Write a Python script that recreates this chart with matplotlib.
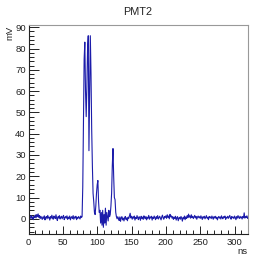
import numpy as np
import matplotlib
matplotlib.use("Agg")
import matplotlib.pyplot as plt
from matplotlib.ticker import MultipleLocator

plt.rcParams["font.family"] = ["Liberation Sans", "DejaVu Sans"]

T_START = 0
T_STEP = 1

baseline_pre = [
    0.3, 1.1, -0.2, 0.8, 1.5, 0.2, 0.9, -0.4, 1.2, 0.6,
    1.8, 0.4, 2.0, 1.0, 2.3, 0.7, 1.5, 0.1, 1.2, 0.5,
    -0.3, 0.9, 0.2, 1.4, -0.5, 0.6, 1.1, 0.0, 1.6, 0.4,
    0.8, -0.6, 1.0, 0.3, 1.7, 0.5, -0.2, 1.3, 0.6, 0.1,
    1.9, 0.2, -0.8, 1.0, 0.4, 1.5, -0.1, 0.7, 1.2, 0.0,
    0.9, 1.6, -0.4, 0.5, 1.1, 0.3, 1.4, -0.3, 0.8, 0.2,
    1.3, -0.5, 0.6, 1.0, 0.1, 1.5, -0.2, 0.9, 0.4, 1.2,
    -0.4, 0.7, 0.2, 1.1, 0.5, -0.1, 1.3, 0.6,
]

pulse = [
    1.0, 15.0, 45.0, 75.0, 83.0, 60.0, 48.0, 62.0, 80.0, 86.0,
    32.0, 60.0, 86.0, 68.0, 42.0, 25.0, 12.0, 8.0, 3.0, 2.0,
    6.0, 12.0, 16.0, 18.0, 8.0, 3.0, 4.0, -2.0, 3.0, -3.0,
    4.0, -4.0, 2.0, -2.0, 5.0, -3.0, 3.0, 1.0, -1.0, 4.0,
    1.0, 2.0, 6.0, 12.0, 25.0, 33.0, 20.0, 10.0, 9.0, 3.0,
    1.0, 0.0, 1.0,
]

baseline_post = [
    0.2, -0.8, 0.9, -1.2, 0.5, 1.0, -0.5, 0.3, -1.0, 0.6,
    1.1, -0.3, 0.4, -0.9, 0.8, 0.2, 1.4, 2.6, 0.4, 1.2,
    -0.2, 0.9, 0.3, 1.3, -0.6, 0.7, 0.1, 1.5, 0.4, -0.4,
    1.0, 0.5, -0.7, 1.2, 0.2, 0.8, -0.3, 1.4, 0.6, 0.0,
    1.1, -0.5, 0.7, 0.3, 1.6, -0.2, 0.9, 0.4, 1.2, -0.6,
    0.8, 0.1, 1.3, 0.5, -0.4, 1.0, 0.2, 1.5, -0.1, 0.6,
    1.2, 0.3, -0.5, 0.9, 1.7, 0.4, -0.2, 1.1, 0.6, 1.4,
    0.2, 1.9, 0.7, 1.3, 0.0, 2.1, 0.9, 1.4, 0.3, 1.0,
    -0.3, 0.8, 0.2, 1.2, -0.6, 0.5, 1.0, -0.9, 0.4, 0.7,
    -0.2, 1.1, 0.3, -1.1, 0.6, 0.0, 1.3, -0.4, 0.9, 0.2,
    1.5, 0.5, 2.2, 0.8, 1.4, 0.3, 1.9, 0.6, 1.2, 0.1,
    0.9, 1.6, 0.4, 1.1, -0.2, 0.8, 1.3, 0.5, 1.0, 0.2,
    1.4, 0.6, -0.3, 1.0, 0.4, 1.2, 0.0, 0.8, 1.5, 0.3,
    0.7, -0.4, 1.1, 0.5, 0.9, 0.1, 1.3, 0.6, -0.2, 1.0,
    0.4, 1.2, 0.2, 0.8, -0.5, 0.6, 1.1, 0.3, 0.9, -0.1,
    1.4, 0.5, 0.0, 1.0, 0.6, 1.3, -0.3, 0.7, 0.4, 1.2,
    0.2, 0.9, 1.6, 0.4, -0.2, 1.1, 0.5, 0.8, 0.1, 1.3,
    0.6, -0.4, 1.0, 0.3, 1.5, 0.7, 0.2, 1.2, 0.4, 0.9,
    -0.1, 1.1, 0.5, 2.8, 0.3, 1.0, 0.6, 1.4, 0.2, 0.8,
]

voltage = np.array(baseline_pre + pulse + baseline_post)
time_ns = T_START + T_STEP * np.arange(len(voltage))

W, H = 276, 262
fig = plt.figure(figsize=(W / 100, H / 100), dpi=100)
fig.patch.set_facecolor("white")
ax = fig.add_axes([28.5 / W, 1 - 233.5 / H, (248.3 - 28.5) / W, (233.5 - 25.3) / H])

ax.plot(time_ns, voltage, color="#1c1caa", linewidth=0.8)

ax.set_xlim(0, 320)
ax.set_ylim(-6.9, 90.9)

ax.xaxis.set_major_locator(MultipleLocator(50))
ax.xaxis.set_minor_locator(MultipleLocator(10))
ax.yaxis.set_major_locator(MultipleLocator(10))
ax.yaxis.set_minor_locator(MultipleLocator(2))

ax.tick_params(which="both", direction="in", top=False, right=False,
               labelsize=6.8, colors="#222222", width=0.7)
ax.tick_params(axis="x", which="major", length=6, pad=3)
ax.tick_params(axis="x", which="minor", length=3)
ax.tick_params(axis="y", which="major", length=7, pad=2)
ax.tick_params(axis="y", which="minor", length=3.5)

for side in ["left", "bottom"]:
    ax.spines[side].set_color("#222222")
    ax.spines[side].set_linewidth(0.8)
for side in ["top", "right"]:
    ax.spines[side].set_color("#999999")
    ax.spines[side].set_linewidth(0.8)

fig.text(138 / W, 1 - 12 / H, "PMT2", ha="center", va="center", fontsize=7.8, color="#222222")
fig.text(10 / W, 1 - 25.5 / H, "mV", ha="center", va="top", rotation=90, fontsize=6.8, color="#222222")
fig.text(248 / W, 1 - 252 / H, "ns", ha="right", va="center", fontsize=6.8, color="#222222")

fig.savefig("out.png", dpi=100)
